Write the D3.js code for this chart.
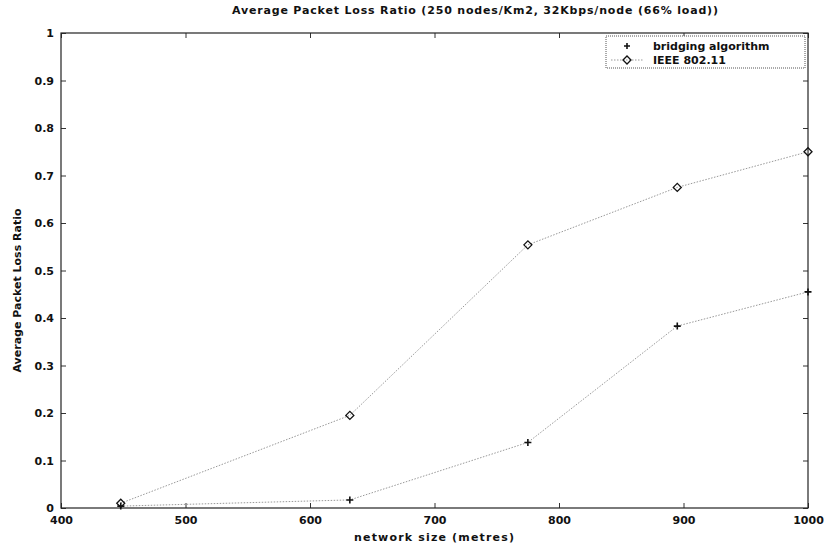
<!DOCTYPE html>
<html lang="en">
<head>
<meta charset="utf-8">
<title>Average Packet Loss Ratio</title>
<script src="https://d3js.org/d3.v7.min.js"></script>
<style>
  body { margin: 0; background: white; }
  text { font-family: "DejaVu Sans", Arial, sans-serif; font-weight: bold; fill: #111; }
</style>
</head>
<body>
<div id="container"></div>
<script>
// data
var sizes = [448, 632, 775, 895, 1000];
var bridging = [0.004, 0.017, 0.138, 0.383, 0.455];
var ieee = [0.01, 0.195, 0.554, 0.675, 0.75];
var xTicks = [400, 500, 600, 700, 800, 900, 1000];
var yTicks = [0, 0.1, 0.2, 0.3, 0.4, 0.5, 0.6, 0.7, 0.8, 0.9, 1];
var seriesNames = ["bridging algorithm", "IEEE 802.11"];

// layout
var w = 828, h = 549;
var pLeft = 61, pRight = 808, pTop = 33, pBottom = 508;

var svg = d3.select("#container").append("svg")
    .attr("width", w).attr("height", h);

var x = d3.scaleLinear().domain([400, 1000]).range([pLeft, pRight]);
var y = d3.scaleLinear().domain([0, 1]).range([pBottom, pTop]);

// axes, matlab style ticks pointing in
var xAxis = d3.axisBottom(x).tickValues(xTicks).tickSize(-5).tickPadding(8).tickFormat(d3.format("d"));
var yAxis = d3.axisLeft(y).tickValues(yTicks).tickSize(-5).tickPadding(7).tickFormat(function(d) { return d === 0 || d === 1 ? d : d.toFixed(1); });

var gx = svg.append("g").attr("transform", "translate(0," + pBottom + ")").call(xAxis);
var gy = svg.append("g").attr("transform", "translate(" + pLeft + ",0)").call(yAxis);
[gx, gy].forEach(function(g) {
  g.select(".domain").remove();
  g.selectAll("line").attr("stroke", "#333");
  g.selectAll("text").style("font-size", "11px").style("font-family", "DejaVu Sans, Arial, sans-serif").style("font-weight", "bold");
});
// right / top ticks
svg.append("g").attr("transform", "translate(" + pRight + ",0)")
  .call(d3.axisRight(y).tickValues(yTicks).tickSize(-5).tickFormat(""))
  .call(function(g) { g.select(".domain").remove(); g.selectAll("line").attr("stroke", "#333"); });
svg.append("g").attr("transform", "translate(0," + pTop + ")")
  .call(d3.axisTop(x).tickValues(xTicks).tickSize(-5).tickFormat(""))
  .call(function(g) { g.select(".domain").remove(); g.selectAll("line").attr("stroke", "#333"); });

// box
svg.append("rect").attr("x", pLeft).attr("y", pTop)
  .attr("width", pRight - pLeft).attr("height", pBottom - pTop)
  .attr("fill", "none").attr("stroke", "#222").attr("stroke-width", 1.2);

// lines
var line = d3.line().x(function(d) { return x(d[0]); }).y(function(d) { return y(d[1]); });
var bData = d3.zip(sizes, bridging);
var iData = d3.zip(sizes, ieee);

svg.append("path").datum(bData).attr("d", line)
  .attr("fill", "none").attr("stroke", "#999").attr("stroke-width", 1).attr("stroke-dasharray", "1.5,1.5");
svg.append("path").datum(iData).attr("d", line)
  .attr("fill", "none").attr("stroke", "#999").attr("stroke-width", 1).attr("stroke-dasharray", "1.5,1.5");

// markers
function plus(g, cx, cy, s) {
  g.append("path").attr("d", "M" + (cx - s) + "," + cy + "H" + (cx + s) + "M" + cx + "," + (cy - s) + "V" + (cy + s))
    .attr("stroke", "#111").attr("stroke-width", 1.6).attr("fill", "none");
}
function diamond(g, cx, cy, s) {
  g.append("path").attr("d", "M" + (cx - s) + "," + cy + "L" + cx + "," + (cy - s) + "L" + (cx + s) + "," + cy + "L" + cx + "," + (cy + s) + "Z")
    .attr("stroke", "#111").attr("stroke-width", 1.3).attr("fill", "none");
}
var marks = svg.append("g");
bData.forEach(function(d) { plus(marks, x(d[0]), y(d[1]), 3.5); });
iData.forEach(function(d) { diamond(marks, x(d[0]), y(d[1]), 4); });

// title and labels
svg.append("text").attr("x", 475).attr("y", 14).attr("text-anchor", "middle")
  .style("font-size", "11px").attr("textLength", 486).attr("lengthAdjust", "spacing")
  .text("Average Packet Loss Ratio (250 nodes/Km2, 32Kbps/node (66% load))");
svg.append("text").attr("x", 434).attr("y", 541).attr("text-anchor", "middle")
  .style("font-size", "11px").attr("textLength", 160).attr("lengthAdjust", "spacing")
  .text("network size (metres)");
svg.append("text").attr("transform", "translate(21," + ((pTop + pBottom) / 2 + 20) + ") rotate(-90)")
  .attr("text-anchor", "middle").style("font-size", "11px").text("Average Packet Loss Ratio");

// legend
var lg = svg.append("g");
lg.append("rect").attr("x", 606).attr("y", 36).attr("width", 199).attr("height", 32)
  .attr("fill", "white").attr("stroke", "#555").attr("stroke-width", 1).attr("stroke-dasharray", "1,1");
plus(lg, 627, 46, 3);
lg.append("path").attr("d", "M611,60H643").attr("stroke", "#999").attr("stroke-dasharray", "1.5,1.5");
diamond(lg, 627, 60, 4);
lg.selectAll("text.leg").data(seriesNames).enter().append("text")
  .attr("x", 653).attr("y", function(d, i) { return 50 + i * 14; })
  .style("font-size", "11px").text(function(d) { return d; });
</script>
</body>
</html>
